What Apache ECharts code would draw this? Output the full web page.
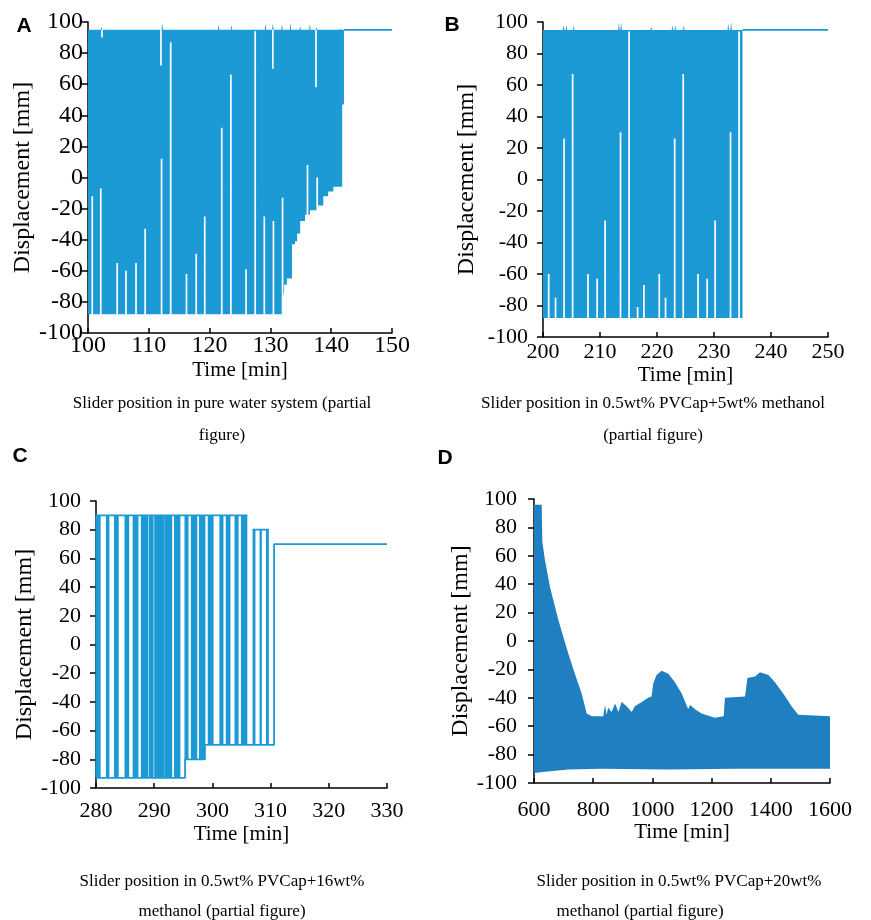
<!DOCTYPE html>
<html><head><meta charset="utf-8">
<script src="https://cdn.jsdelivr.net/npm/echarts@6.0.0/dist/echarts.min.js"></script>
<style>html,body{margin:0;padding:0;background:#fff}#c{width:871px;height:920px}</style>
</head><body><div id="c"></div>
<script>
// ---------------- Panel A : pure water ----------------
const aBand = [100, 142.1];
const aTop = 95;
const aLowT = [100, 131.9, 132.25, 132.7, 133.55, 134.05, 134.4, 134.9, 135.7, 136.5, 137.6, 138.7, 139.5, 140.35, 141.8];
const aLowV = [-88, -75, -69, -65, -43, -41, -36, -28, -24, -21, -18, -12, -9, -6, 47];
const aGapT = [100.7, 102.1, 104.8, 106.25, 107.9, 109.4, 112.1, 113.6, 116.2, 117.8, 119.2, 122.0, 123.5, 126.0, 127.5, 129.0, 130.5, 132.0, 136.1, 137.7];
const aGapV = [-12, -7, -55, -60, -55, -33, 12, 87, -62, -49, -25, 32, 66, -59, 94, -25, -28, -13, 8, 0];
const aNotchT = [102.3, 112.0, 130.4, 137.5];
const aNotchV = [90, 72, 70, 58];
const aSpikeT = [102.2, 112.2, 121.5, 123.6, 129.2, 130.4, 131.9, 133.3, 134.9, 136.5, 137.6, 141.6];
const aSpikeV = [97, 99.5, 98.5, 98, 99, 99, 98.5, 99.5, 97.5, 99, 97, 96];
const aRestT = [142.1, 150];
const aRestV = [95, 95];

// ---------------- Panel B : 0.5wt% PVCap + 5wt% methanol ----------------
const bBand = [200, 235.0];
const bTop = 95;
const bLowT = [200];
const bLowV = [-88];
const bGapT = [201.0, 202.2, 203.7, 205.2, 207.9, 209.5, 210.9, 213.6, 215.1, 216.6, 217.7, 220.4, 221.5, 223.1, 224.6, 227.2, 228.8, 230.2, 232.9, 234.4];
const bGapV = [-60, -75, 26, 67, -60, -63, -26, 30, 94, -81, -67, -60, -75, 26, 67, -60, -63, -26, 30, 94];
const bNotchT = [];
const bNotchV = [];
const bSpikeT = [203.6, 204.1, 205.4, 213.3, 213.7, 219.0, 222.7, 223.2, 224.7, 232.5, 233.0];
const bSpikeV = [98, 98, 98, 99, 100, 97, 98, 98, 98, 99, 100];
const bRestT = [235.0, 250];
const bRestV = [95, 95];

// ---------------- Panel C : 0.5wt% PVCap + 16wt% methanol ----------------
const cColStart = [279.9, 281.7, 283.1, 284.9, 286.3, 287.7, 289.1, 290.0, 291.8, 293.4, 295.2, 296.3, 297.7, 299.2, 301.2, 302.3, 303.8, 304.9, 306.9, 308.1, 309.2];
const cColEnd   = [280.8, 282.3, 283.9, 285.7, 287.3, 289.0, 289.9, 291.8, 293.1, 294.5, 295.9, 297.4, 298.8, 300.2, 301.9, 303.1, 304.5, 306.0, 307.4, 308.5, 309.7];
const cColLow   = [-93, -93, -93, -93, -93, -93, -93, -93, -93, -93, -80, -80, -80, -70, -70, -70, -70, -70, -70, -70, -70];
const cColHigh  = [90, 90, 90, 90, 90, 90, 90, 90, 90, 90, 90, 90, 90, 90, 90, 90, 90, 90, 80, 80, 80];
const cTopT = [280, 306.0, null, 306.9, 309.7];
const cTopV = [90, 90, null, 80, 80];
const cBotT = [280, 295.3, 295.3, 298.7, 298.7, 310.6, 310.6, 330];
const cBotV = [-93, -93, -80, -80, -70, -70, 70, 70];

// ---------------- Panel D : 0.5wt% PVCap + 20wt% methanol ----------------
const dUpT = [600, 626, 628, 637, 654, 682, 716, 738, 761, 778, 795, 834, 840, 845, 851, 862, 874, 885, 896, 913, 930, 941, 964, 986, 997, 1003, 1014, 1031, 1054, 1076, 1099, 1121, 1127, 1144, 1166, 1211, 1241, 1245, 1313, 1321, 1347, 1363, 1392, 1414, 1442, 1470, 1493, 1600];
const dUpV = [96, 96, 70, 57, 38, 15, -9, -23, -37, -51, -53, -53, -45, -52, -47, -50, -44, -50, -43, -46, -50, -46, -43, -40, -39, -30, -24, -21, -23, -29, -37, -48, -45, -48, -51, -54, -53, -40, -39, -26, -25, -22, -24, -29, -37, -46, -52, -53];
const dLoT = [600, 637, 716, 829, 1054, 1279, 1600];
const dLoV = [-93, -92, -90.5, -90, -90.5, -90, -90];

const xTicksA = [100, 150, 10], xTicksB = [200, 250, 10], xTicksC = [280, 330, 10], xTicksD = [600, 1600, 200];
const yTicks = [-100, 100, 20];

const captions = [
  ['Slider position in pure water system (partial', 'figure)'],
  ['Slider position in 0.5wt% PVCap+5wt% methanol', '(partial figure)'],
  ['Slider position in 0.5wt% PVCap+16wt%', 'methanol (partial figure)'],
  ['Slider position in 0.5wt% PVCap+20wt%', 'methanol (partial figure)']
];
const letters = ['A', 'B', 'C', 'D'];

// ---------- helpers ----------
const SERIF = '"Liberation Serif","Times New Roman",serif';
const BLUE = '#1b9ad6', BLUE_D = '#1f7fc1';

function stepAt(ts, vs, t) {
  let v = vs[0];
  for (let i = 0; i < ts.length; i++) if (t >= ts[i]) v = vs[i];
  return v;
}
function bandSegments(band, top, lowT, lowV, gapT, gapV, notchT, notchV, w) {
  const bp = new Set([band[0], band[1]]);
  lowT.forEach(t => { if (t > band[0] && t < band[1]) bp.add(t); });
  gapT.forEach(t => { bp.add(t - w / 2); bp.add(t + w / 2); });
  notchT.forEach(t => { bp.add(t - w / 2); bp.add(t + w / 2); });
  const xs = [...bp].filter(t => t >= band[0] && t <= band[1]).sort((a, b) => a - b);
  const segs = [];
  for (let i = 0; i < xs.length - 1; i++) {
    const a = xs[i], b = xs[i + 1], m = (a + b) / 2;
    let low = stepAt(lowT, lowV, m), high = top;
    gapT.forEach((t, k) => { if (Math.abs(m - t) < w / 2) low = Math.max(low, gapV[k]); });
    notchT.forEach((t, k) => { if (Math.abs(m - t) < w / 2) high = Math.min(high, notchV[k]); });
    segs.push([a, b, low, high]);
  }
  return segs;
}
function bandPolygon(segs) {
  const up = [], lo = [];
  segs.forEach(s => { up.push([s[0], s[3]], [s[1], s[3]]); });
  for (let i = segs.length - 1; i >= 0; i--) { const s = segs[i]; lo.push([s[1], s[2]], [s[0], s[2]]); }
  return up.concat(lo);
}
function bandSeries(idx, segs, spikeT, spikeV, top, sw, color) {
  const poly = bandPolygon(segs);
  return {
    type: 'custom', xAxisIndex: idx, yAxisIndex: idx, silent: true, z: 3,
    data: [[segs[0][0], 0]],
    renderItem: (params, api) => {
      const children = [{ type: 'polygon', shape: { points: poly.map(p => api.coord(p)) }, style: { fill: color } }];
      spikeT.forEach((t, k) => {
        const p = [[t - sw, top], [t, spikeV[k]], [t + sw, top]].map(q => api.coord(q));
        children.push({ type: 'polygon', shape: { points: p }, style: { fill: color } });
      });
      return { type: 'group', children };
    }
  };
}
function colSeries(idx, s, e, lo, hi, color) {
  return {
    type: 'custom', xAxisIndex: idx, yAxisIndex: idx, silent: true, z: 3,
    data: s.map((t, i) => [t, e[i], lo[i], hi[i]]),
    encode: { x: [0, 1], y: [2, 3] },
    renderItem: (params, api) => {
      const p0 = api.coord([api.value(0), api.value(3)]);
      const p1 = api.coord([api.value(1), api.value(2)]);
      return { type: 'rect', shape: { x: p0[0], y: p0[1], width: p1[0] - p0[0], height: p1[1] - p0[1] }, style: { fill: color } };
    }
  };
}
function lineSeries(idx, ts, vs, color) {
  return {
    type: 'line', xAxisIndex: idx, yAxisIndex: idx, silent: true, z: 4,
    data: ts.map((t, i) => t === null ? null : [t, vs[i]]),
    connectNulls: false, showSymbol: false, symbol: 'none',
    lineStyle: { color, width: 1.8 }
  };
}
function polySeries(idx, upT, upV, loT, loV, color) {
  const pts = upT.map((t, i) => [t, upV[i]]);
  for (let i = loT.length - 1; i >= 0; i--) pts.push([loT[i], loV[i]]);
  return {
    type: 'custom', xAxisIndex: idx, yAxisIndex: idx, silent: true, z: 3,
    data: [[upT[0], 0]],
    renderItem: (params, api) => ({ type: 'polygon', shape: { points: pts.map(p => api.coord(p)) }, style: { fill: color } })
  };
}

// ---------- layout ----------
const grids = [
  { left: 88, top: 22, width: 304, height: 311 },
  { left: 543, top: 22, width: 285, height: 315 },
  { left: 96, top: 501, width: 291, height: 287 },
  { left: 534, top: 499, width: 296, height: 284 }
];
const labelSize = [24, 22, 22, 22];
const yLabelMargin = [5, 15, 15, 17];
const xLabelMargin = [1, 4, 12, 16];
const yNameGap = [50, 64, 58, 55];
const xNameGap = [27, 28, 36, 38];
const xTicks = [xTicksA, xTicksB, xTicksC, xTicksD];

const axisLine = { show: true, onZero: false, lineStyle: { color: '#000', width: 1.5 } };
const xAxes = grids.map((g, i) => ({
  type: 'value', gridIndex: i, min: xTicks[i][0], max: xTicks[i][1], interval: xTicks[i][2],
  axisLine, axisTick: { show: true, inside: true, length: 5, lineStyle: { color: '#000', width: 1.5 } },
  splitLine: { show: false },
  axisLabel: { color: '#000', fontFamily: SERIF, fontSize: labelSize[i], margin: xLabelMargin[i], formatter: v => String(v) },
  name: 'Time [min]', nameLocation: 'middle', nameGap: xNameGap[i],
  nameTextStyle: { color: '#000', fontFamily: SERIF, fontSize: 21 }
}));
const yAxes = grids.map((g, i) => ({
  type: 'value', gridIndex: i, min: yTicks[0], max: yTicks[1], interval: yTicks[2],
  axisLine, axisTick: { show: true, inside: false, length: 6, lineStyle: { color: '#000', width: 1.5 } },
  splitLine: { show: false },
  axisLabel: { color: '#000', fontFamily: SERIF, fontSize: labelSize[i], margin: yLabelMargin[i], formatter: v => String(v) },
  name: 'Displacement [mm]', nameLocation: 'middle', nameGap: yNameGap[i], nameRotate: 90,
  nameTextStyle: { color: '#000', fontFamily: SERIF, fontSize: 24 }
}));

const segA = bandSegments(aBand, aTop, aLowT, aLowV, aGapT, aGapV, aNotchT, aNotchV, 0.28);
const segB = bandSegments(bBand, bTop, bLowT, bLowV, bGapT, bGapV, bNotchT, bNotchV, 0.3);

const series = [
  bandSeries(0, segA, aSpikeT, aSpikeV, aTop, 0.12, BLUE),
  lineSeries(0, aRestT, aRestV, BLUE),
  bandSeries(1, segB, bSpikeT, bSpikeV, bTop, 0.13, BLUE),
  lineSeries(1, bRestT, bRestV, BLUE),
  colSeries(2, cColStart, cColEnd, cColLow, cColHigh, BLUE),
  lineSeries(2, cTopT, cTopV, BLUE),
  lineSeries(2, cBotT, cBotV, BLUE),
  polySeries(3, dUpT, dUpV, dLoT, dLoV, BLUE_D)
];

const capPos = [[222, 404, 436], [653, 404, 436], [222, 882, 912], [[679, 640], 882, 912]];
const letterPos = [[24, 26], [452, 25], [20, 456], [445, 458]];
const graphics = [];
captions.forEach((c, i) => {
  const p = capPos[i];
  const x1 = Array.isArray(p[0]) ? p[0][0] : p[0];
  const x2 = Array.isArray(p[0]) ? p[0][1] : p[0];
  graphics.push({ type: 'text', x: x1, y: p[1], style: { text: c[0], fill: '#000', font: '17px ' + SERIF, textAlign: 'center', textVerticalAlign: 'middle' } });
  graphics.push({ type: 'text', x: x2, y: p[2], style: { text: c[1], fill: '#000', font: '17px ' + SERIF, textAlign: 'center', textVerticalAlign: 'middle' } });
});
letters.forEach((l, i) => {
  graphics.push({ type: 'text', x: letterPos[i][0], y: letterPos[i][1], style: { text: l, fill: '#000', font: 'bold 21px "Liberation Sans",Arial,sans-serif', textAlign: 'center', textVerticalAlign: 'middle' } });
});

const chart = echarts.init(document.getElementById('c'), null, { renderer: 'canvas' });
chart.setOption({
  animation: false,
  backgroundColor: '#fff',
  grid: grids,
  xAxis: xAxes,
  yAxis: yAxes,
  series,
  graphic: graphics
});
</script></body></html>
